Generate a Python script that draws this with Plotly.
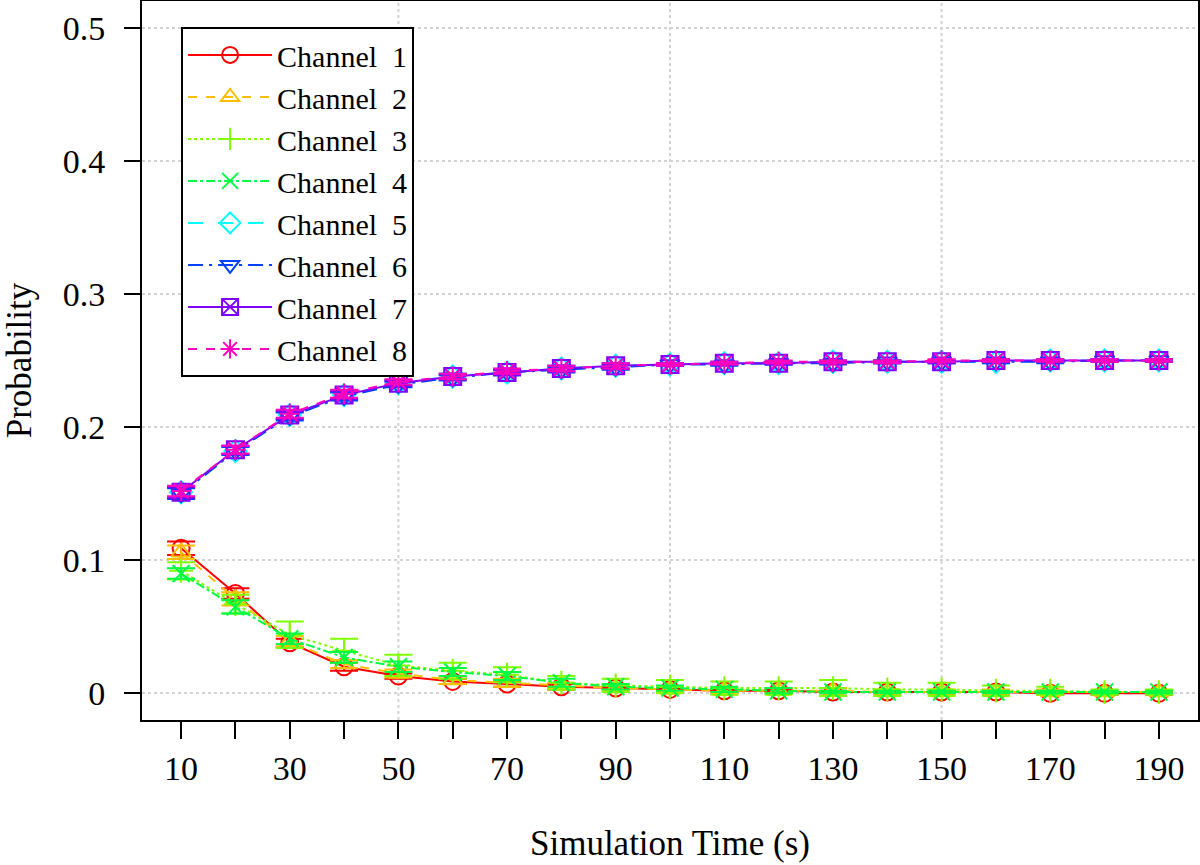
import plotly.graph_objects as go

# ---- data ----
sim_time = [10, 20, 30, 40, 50, 60, 70, 80, 90, 100, 110, 120, 130, 140, 150, 160, 170, 180, 190]
label_ticks = [10, 30, 50, 70, 90, 110, 130, 150, 170, 190]

ch1 = [0.109, 0.075, 0.038, 0.020, 0.013, 0.009, 0.007, 0.005, 0.004, 0.003, 0.002, 0.002, 0.001, 0.001, 0.001, 0.001, 0.000, 0.000, 0.000]
ch2 = [0.106, 0.071, 0.039, 0.022, 0.015, 0.010, 0.008, 0.006, 0.004, 0.003, 0.002, 0.002, 0.002, 0.001, 0.001, 0.001, 0.001, 0.001, 0.001]
ch3 = [0.092, 0.067, 0.044, 0.032, 0.021, 0.017, 0.014, 0.008, 0.006, 0.005, 0.004, 0.004, 0.004, 0.003, 0.003, 0.002, 0.002, 0.001, 0.001]
ch4 = [0.090, 0.065, 0.041, 0.027, 0.020, 0.016, 0.013, 0.008, 0.005, 0.004, 0.003, 0.002, 0.001, 0.001, 0.001, 0.001, 0.001, 0.001, 0.001]
ch5 = [0.151, 0.182, 0.209, 0.224, 0.233, 0.238, 0.241, 0.244, 0.246, 0.247, 0.248, 0.248, 0.249, 0.249, 0.249, 0.249, 0.250, 0.250, 0.250]
ch6 = [0.150, 0.182, 0.208, 0.223, 0.232, 0.237, 0.241, 0.243, 0.245, 0.247, 0.247, 0.248, 0.248, 0.249, 0.249, 0.249, 0.249, 0.250, 0.250]
ch7 = [0.151, 0.183, 0.209, 0.224, 0.233, 0.238, 0.241, 0.244, 0.246, 0.247, 0.248, 0.248, 0.249, 0.249, 0.249, 0.250, 0.250, 0.250, 0.250]
ch8 = [0.152, 0.183, 0.210, 0.225, 0.234, 0.238, 0.242, 0.244, 0.246, 0.247, 0.248, 0.249, 0.249, 0.249, 0.250, 0.250, 0.250, 0.250, 0.250]

err1 = [0.005, 0.004, 0.003, 0.003, 0.002, 0.002, 0.002, 0.002, 0.001, 0.001, 0.001, 0.001, 0.001, 0.001, 0.001, 0.001, 0.001, 0.001, 0.001]
err2 = [0.005, 0.005, 0.004, 0.003, 0.003, 0.003, 0.003, 0.002, 0.002, 0.002, 0.002, 0.002, 0.002, 0.002, 0.002, 0.002, 0.002, 0.001, 0.001]
err3 = [0.0065, 0.007, 0.010, 0.009, 0.008, 0.006, 0.0056, 0.005, 0.005, 0.005, 0.005, 0.005, 0.006, 0.005, 0.005, 0.004, 0.003, 0.002, 0.002]
err4 = [0.004, 0.005, 0.004, 0.004, 0.004, 0.003, 0.003, 0.003, 0.002, 0.002, 0.002, 0.002, 0.001, 0.001, 0.001, 0.001, 0.001, 0.001, 0.001]
err_hi = [0.004, 0.003, 0.003, 0.003, 0.002, 0.002, 0.002, 0.002, 0.002, 0.001, 0.001, 0.001, 0.001, 0.001, 0.001, 0.001, 0.001, 0.001, 0.001]

names = ["Channel  1", "Channel  2", "Channel  3", "Channel  4",
         "Channel  5", "Channel  6", "Channel  7", "Channel  8"]
values = [ch1, ch2, ch3, ch4, ch5, ch6, ch7, ch8]
errors = [err1, err2, err3, err4, err_hi, err_hi, err_hi, err_hi]
colors = ["#FF0000", "#FFBF00", "#80FF00", "#00FF40", "#00FFFF", "#0040FF", "#8000FF", "#FF00BF"]
symbols = ["circle-open", "triangle-up-open", "cross-thin-open", "x-thin-open",
           "diamond-open", "triangle-down-open", "square-x-open", "asterisk-open"]
dashes = ["solid", "dash", "dot", "dashdot", "longdash", "longdashdot", "solid", "dash"]

y_ticks = [0, 0.1, 0.2, 0.3, 0.4, 0.5]
y_text = ["0", "0.1", "0.2", "0.3", "0.4", "0.5"]
x_grid = [50, 100, 150]

FONT = "Liberation Serif"

fig = go.Figure()
for n, v, e, c, s, d in zip(names, values, errors, colors, symbols, dashes):
    fig.add_trace(go.Scatter(
        x=sim_time, y=v, name=n, mode="lines+markers",
        line=dict(color=c, width=2, dash=d),
        marker=dict(symbol=s, size=17, color=c, line=dict(color=c, width=2)),
        error_y=dict(type="data", array=e, visible=True, color=c, thickness=2, width=14),
    ))

shapes = [dict(type="line", xref="x", yref="paper", x0=g, x1=g, y0=0, y1=1,
               line=dict(color="lightgray", width=2, dash="dot"), layer="below")
          for g in x_grid]

fig.update_layout(
    width=1200, height=865,
    margin=dict(l=142, r=2, t=1, b=145),
    paper_bgcolor="white", plot_bgcolor="white",
    font=dict(family=FONT, size=34, color="black"),
    shapes=shapes,
    showlegend=True,
    legend=dict(x=0.037, y=0.964, xanchor="left", yanchor="top",
                bgcolor="white", bordercolor="black", borderwidth=2,
                font=dict(family=FONT, size=30, color="black"),
                itemwidth=84, tracegroupgap=0),
    xaxis=dict(range=[2.8, 197.2], tickmode="array", tickvals=sim_time,
               ticktext=[str(t) if t in label_ticks else "" for t in sim_time],
               ticks="outside", ticklen=17, tickwidth=2, tickcolor="black",
               showline=True, linewidth=2, linecolor="black", mirror=True,
               showgrid=False, zeroline=False, automargin=False,
               tickfont=dict(family=FONT, size=34),
               title=dict(text="Simulation Time (s)", font=dict(family=FONT, size=35), standoff=45)),
    yaxis=dict(range=[-0.02, 0.52], tickmode="array", tickvals=y_ticks, ticktext=y_text,
               ticks="outside", ticklen=16, tickwidth=2, tickcolor="black",
               showline=True, linewidth=2, linecolor="black", mirror=True,
               showgrid=True, gridcolor="lightgray", gridwidth=2, griddash="dot",
               zeroline=False, automargin=False, ticklabelstandoff=12,
               tickfont=dict(family=FONT, size=34),
               title=dict(text="Probability", font=dict(family=FONT, size=35), standoff=20)),
)

fig.write_html("out.html", config={"displayModeBar": False},
               post_script="document.body.style.margin='0';")
